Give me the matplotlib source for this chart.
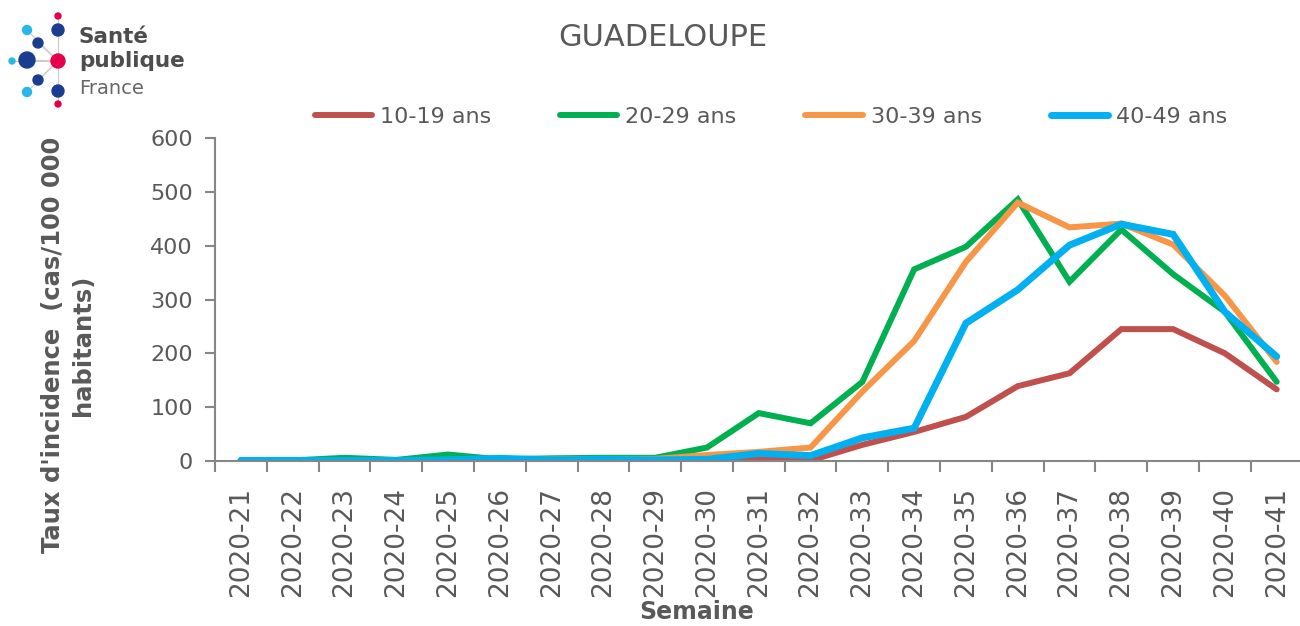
import matplotlib
matplotlib.use("Agg")
import matplotlib.pyplot as plt
import numpy as np

weeks = ["2020-21", "2020-22", "2020-23", "2020-24", "2020-25", "2020-26", "2020-27",
         "2020-28", "2020-29", "2020-30", "2020-31", "2020-32", "2020-33", "2020-34",
         "2020-35", "2020-36", "2020-37", "2020-38", "2020-39", "2020-40", "2020-41"]
ans_10_19 = [1, 1, 1, 1, 1, 1, 1, 1, 1, 1, 3, 1, 30, 54, 82, 139, 163, 245, 245, 200, 133]
ans_20_29 = [1, 1, 6, 2, 12, 3, 5, 6, 6, 25, 89, 70, 147, 356, 398, 486, 333, 430, 347, 277, 147]
ans_30_39 = [1, 1, 2, 1, 2, 2, 3, 4, 4, 11, 17, 25, 129, 223, 370, 480, 434, 441, 402, 307, 184]
ans_40_49 = [1, 1, 1, 1, 2, 5, 2, 3, 2, 3, 14, 10, 43, 61, 256, 318, 401, 440, 421, 277, 194]
series_labels = ["10-19 ans", "20-29 ans", "30-39 ans", "40-49 ans"]
yticks = [0, 100, 200, 300, 400, 500, 600]

colors = ["#C0504D", "#00B050", "#F79646", "#00B0F0"]
gray = "#595959"
axis_gray = "#868686"

W, H = 1300, 626
fig = plt.figure(figsize=(13, 6.26), dpi=100)
ax = fig.add_axes([215 / W, 165 / H, (1300 - 215) / W, (461 - 138) / H])

x = np.arange(len(weeks))
data = [ans_10_19, ans_20_29, ans_30_39, ans_40_49]
lws = [4.3, 4.3, 4.3, 5.0]
for vals, c, lab, lw in zip(data, colors, series_labels, lws):
    ax.plot(x, vals, color=c, lw=lw, label=lab, solid_capstyle="round", solid_joinstyle="miter")

ax.set_xlim(-0.5, len(weeks) - 0.55)
ax.set_ylim(0, 600)
ax.set_yticks(yticks)
ax.set_yticklabels([str(v) for v in yticks], fontsize=16, color=gray)
ax.set_xticks(x)
ax.set_xticklabels(weeks, rotation=90, fontsize=19, color=gray)
ax.set_xticks(np.arange(-0.5, len(weeks) - 0.5, 1.0), minor=True)
ax.tick_params(axis="x", which="major", length=0, pad=19)
ax.tick_params(axis="x", which="minor", length=8, width=1.5, color=axis_gray, direction="out")
ax.tick_params(axis="y", which="major", length=7, width=1.5, color=axis_gray, direction="out", pad=9)

for s in ["top", "right"]:
    ax.spines[s].set_visible(False)
for s in ["left", "bottom"]:
    ax.spines[s].set_color(axis_gray)
    ax.spines[s].set_linewidth(1.5)

fig.text(68 / W, 1 - 345 / H, "Taux d'incidence  (cas/100 000\nhabitants)", rotation=90,
         fontsize=17.5, fontweight="bold", color=gray, ha="center", va="center", linespacing=1.3)
fig.text(697 / W, 1 - 612 / H, "Semaine", fontsize=17, fontweight="bold", color=gray,
         ha="center", va="center")

fig.text(663 / W, 1 - 38 / H, "GUADELOUPE", fontsize=22, color=gray, ha="center", va="center")

leg = fig.legend(loc="center", bbox_to_anchor=(771 / W, 1 - 117 / H), ncol=4, frameon=False,
                 fontsize=16, handlelength=2.57, columnspacing=3.1, handletextpad=0.36)
for t in leg.get_texts():
    t.set_color(gray)

# logo
lax = fig.add_axes([0, 1 - 110 / H, 200 / W, 110 / H])
lax.set_xlim(0, 200)
lax.set_ylim(110, 0)
lax.axis("off")
center = (58, 61)
dots = [(58, 16, 3, "#E6004C"), (58, 30, 6, "#1B3D8F"), (27, 30, 4.5, "#29B6E8"),
        (38, 43, 5, "#1B3D8F"), (27, 60, 8, "#1B3D8F"), (12, 61, 3, "#29B6E8"),
        (38, 80, 5, "#1B3D8F"), (27, 92, 4.5, "#29B6E8"), (58, 91, 6, "#1B3D8F"),
        (58, 104, 3, "#E6004C")]
for dx, dy, r, c in dots:
    lax.plot([center[0], dx], [center[1], dy], color="#CCCCCC", lw=0.8, zorder=1)
for dx, dy, r, c in dots:
    lax.add_patch(plt.Circle((dx, dy), r, color=c, zorder=2))
lax.add_patch(plt.Circle(center, 7, color="#E6004C", zorder=3))
lax.text(79, 37, "Santé", fontsize=15.5, fontweight="bold", color="#4D4D4D", va="center")
lax.text(79, 61, "publique", fontsize=15.5, fontweight="bold", color="#4D4D4D", va="center")
lax.text(79, 89, "France", fontsize=14, color="#666666", va="center")

fig.savefig("out.png", dpi=100)
